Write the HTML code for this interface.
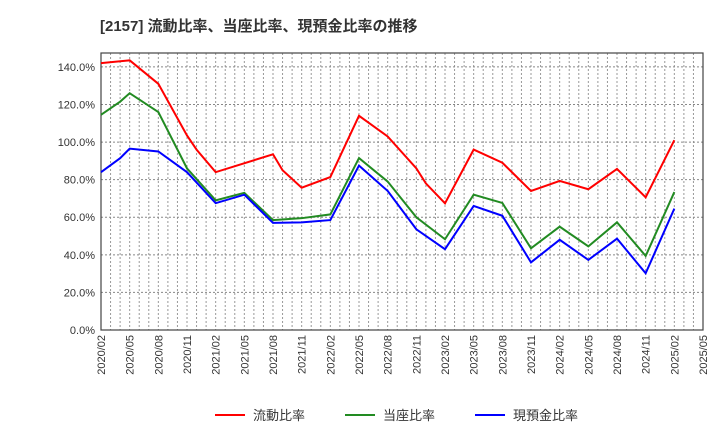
<!DOCTYPE html>
<html><head><meta charset="utf-8"><style>
body{margin:0;background:#fff;font-family:"Liberation Sans","Noto Sans CJK JP",sans-serif}
svg text{font-family:"Liberation Sans","Noto Sans CJK JP",sans-serif}
</style></head><body>
<svg id="c" width="720" height="440">
<text x="100" y="31" font-size="15" font-weight="bold" fill="#333">[2157]  流動比率、当座比率、現預金比率の推移</text>
<g id="grid"></g><g id="axes"></g><g id="series"></g><g id="legend"></g>
</svg>
<script>
const xTickLabels=["2020/02","2020/05","2020/08","2020/11","2021/02","2021/05","2021/08","2021/11","2022/02","2022/05","2022/08","2022/11","2023/02","2023/05","2023/08","2023/11","2024/02","2024/05","2024/08","2024/11","2025/02","2025/05"];
const yTicks=[0,20,40,60,80,100,120,140];
const redMonths=[0,3,6,9,10,12,18,19,21,24,27,30,33,34,36,39,42,45,48,51,54,57,60];
const redValues=[142,143.5,131,103.5,96,84,93.5,85,75.7,81.4,114,103,86,78,67.4,96,89,74,79.3,74.9,85.7,70.6,101];
const greenMonths=[0,2,3,6,9,12,15,18,21,24,27,30,33,36,39,42,45,48,51,54,57,60];
const greenValues=[114.5,121.5,126,116,86,69,73,58.5,59.5,61.5,91.5,79,60,48.3,72,67.6,43.5,55,44.5,57.3,39.4,73.4];
const blueMonths=[0,2,3,6,9,12,15,18,21,24,27,30,33,36,39,42,45,48,51,54,57,60];
const blueValues=[84,91.4,96.5,95,84,67.5,72,57,57.3,58.5,87.5,74,53.6,43,66,60.8,36,48,37.3,48.6,30.2,64.6];
const L=101,R=703,T=53,B=330,xMax=63,yMax=147.4;
const X=m=>L+(R-L)*m/xMax, Y=v=>B-(B-T)*v/yMax;
const NS="http://www.w3.org/2000/svg";
function mk(t,a,p){const e=document.createElementNS(NS,t);for(const k in a)e.setAttribute(k,a[k]);p.appendChild(e);return e;}
const g=document.getElementById('grid'),ax=document.getElementById('axes'),s=document.getElementById('series'),lg=document.getElementById('legend');
for(let m=1;m<xMax;m++){const l=mk('line',{x1:X(m),x2:X(m),y1:T,y2:B,stroke:'#999','stroke-width':1,'stroke-dasharray':'2,2'},g);

}
yTicks.forEach(v=>{const l=mk('line',{x1:L,x2:R,y1:Y(v),y2:Y(v),stroke:'#888','stroke-width':1,'stroke-dasharray':'2,2'},g);


const t=mk('text',{x:L-6,y:Y(v)+4,'text-anchor':'end','font-size':11,fill:'#333'},ax);t.textContent=v.toFixed(1)+'%';

});
const fr=mk('rect',{x:L,y:T,width:R-L,height:B-T,fill:'none',stroke:'#444','stroke-width':1.2},ax);


xTickLabels.forEach((lab,i)=>{const x=X(i*3);const t=mk('text',{transform:`translate(${x+4},${B+5}) rotate(-90)`,'text-anchor':'end','font-size':11,fill:'#333'},ax);t.textContent=lab;

});
function line(ms,vs,col,name){const p=mk('polyline',{points:ms.map((m,i)=>X(m)+','+Y(vs[i])).join(' '),fill:'none',stroke:col,'stroke-width':2},s);

}
line(greenMonths,greenValues,'#228B22','quick-ratio-line');
line(blueMonths,blueValues,'#0000ff','cash-ratio-line');
line(redMonths,redValues,'#ff0000','current-ratio-line');
[['流動比率','#ff0000',215],['当座比率','#228B22',345],['現預金比率','#0000ff',475]].forEach(([n,c,x])=>{
const gg=mk('g',{},lg);


mk('line',{x1:x,x2:x+30,y1:415,y2:415,stroke:c,'stroke-width':2},gg);
const t=mk('text',{x:x+38,y:420,'font-size':13,fill:'#333'},gg);t.textContent=n;});
</script>
</body></html>
